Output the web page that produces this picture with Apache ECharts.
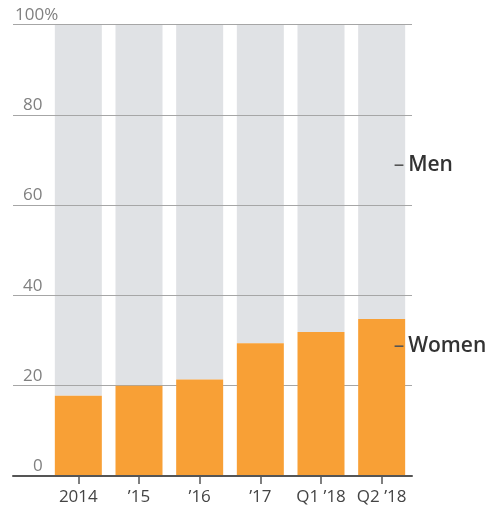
<!DOCTYPE html>
<html>
<head>
<meta charset="utf-8">
<script src="https://cdn.jsdelivr.net/npm/echarts@6/dist/echarts.min.js"></script>
<style>html,body{margin:0;padding:0;background:#fff}#c{width:493px;height:511px}</style>
</head>
<body>
<div id="c"></div>
<script>
const categories = ['2014', '’15', '’16', '’17', 'Q1 ’18', 'Q2 ’18'];
const women = [17.8, 20.0, 21.4, 29.4, 31.9, 34.8];
const men = [82.2, 80.0, 78.6, 70.6, 68.1, 65.2];
const yTicks = [0, 20, 40, 60, 80, 100];

const FONT = '"Open Sans", "Noto Sans", sans-serif';
const chart = echarts.init(document.getElementById('c'));
const gTop = 24.5, gBottom = 35;
const annRich = {
  d: {color: '#555', fontSize: 21, fontFamily: FONT, padding: [0, 4, 0, 0]},
  t: {color: '#333', fontSize: 21, fontWeight: 600, fontFamily: FONT}
};
chart.setOption({
  animation: false,
  grid: [
    {left: 13, right: 81, top: gTop, bottom: gBottom},
    {left: 48, right: 81, top: gTop, bottom: gBottom}
  ],
  xAxis: [
    {gridIndex: 0, type: 'value', min: 0, max: 1, z: 5,
     axisLine: {show: true, lineStyle: {color: '#555', width: 2}},
     axisTick: {show: false}, axisLabel: {show: false}, splitLine: {show: false}},
    {gridIndex: 1, type: 'category', data: categories, z: 5,
     axisLine: {show: false},
     axisTick: {show: true, alignWithLabel: true, interval: 0, length: 8, lineStyle: {color: '#555', width: 1.5}},
     axisLabel: {interval: 0, color: '#444', fontSize: 17, fontFamily: FONT, margin: 13}}
  ],
  yAxis: [
    {gridIndex: 0, type: 'value', min: 0, max: 100, interval: 20, z: 1.5,
     axisLine: {show: false}, axisTick: {show: false},
     splitLine: {show: true, lineStyle: {color: '#a6a6a6', width: 1}},
     axisLabel: {inside: true, margin: 0, verticalAlign: 'bottom', align: 'left',
       color: '#808080', fontSize: 17, fontFamily: FONT,
       formatter: v => v === 100 ? '{a|100%}' : (v === 0 ? '{c|0}' : '{b|' + v + '}'),
       rich: {
         a: {padding: [0, 0, 1, 2], color: '#808080', fontSize: 17, fontFamily: FONT},
         b: {padding: [0, 0, 1, 10], color: '#808080', fontSize: 17, fontFamily: FONT},
         c: {padding: [0, 0, 1, 20], color: '#808080', fontSize: 17, fontFamily: FONT}
       }}},
    {gridIndex: 1, type: 'value', min: 0, max: 100, interval: 20, show: false}
  ],
  series: [
    {name: 'Women', type: 'bar', xAxisIndex: 1, yAxisIndex: 1, stack: 'all', data: women,
     barWidth: 47, z: 3, itemStyle: {color: '#f8a036'},
     markPoint: {symbol: 'circle', symbolSize: 0, silent: true,
       data: [{coord: [5, 28.8]}],
       label: {show: true, position: 'right', distance: 0, offset: [12, 0],
         formatter: '{d|–}{t|Women}', rich: annRich}}},
    {name: 'Men', type: 'bar', xAxisIndex: 1, yAxisIndex: 1, stack: 'all', data: men,
     barWidth: 47, z: 1, itemStyle: {color: '#e0e2e5'},
     markPoint: {symbol: 'circle', symbolSize: 0, silent: true,
       data: [{coord: [5, 68.9]}],
       label: {show: true, position: 'right', distance: 0, offset: [12, 0],
         formatter: '{d|–}{t|Men}', rich: annRich}}}
  ]
});
</script>
</body>
</html>
